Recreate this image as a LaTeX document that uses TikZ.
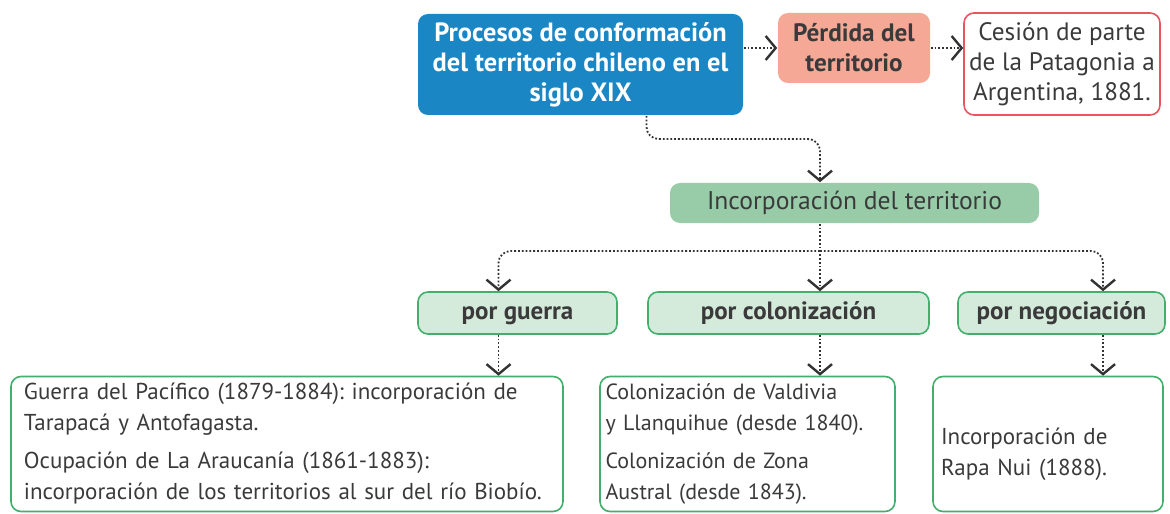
\documentclass[tikz,border=0pt]{standalone}
\usepackage{fontspec}
\setmainfont{PT Sans}
\usetikzlibrary{arrows.meta}
\frenchspacing

\definecolor{azul}{HTML}{1B86C4}
\definecolor{salmon}{HTML}{F5A896}
\definecolor{rojo}{HTML}{E9545E}
\definecolor{verde}{HTML}{98CCA8}
\definecolor{verdeclaro}{HTML}{D4EBDC}
\definecolor{verdeborde}{HTML}{44AE6C}
\definecolor{tinta}{HTML}{3A3A3A}

\begin{document}
\begin{tikzpicture}[x=0.5pt,y=-0.5pt,
		every node/.style={font=\fontsize{11.5}{15.5}\selectfont,text=tinta,inner sep=0pt,align=center},
		caja/.style={rounded corners=5pt,line width=0.8pt},
		rama/.style={caja,fill=verdeclaro,draw=verdeborde,minimum height=21pt,text height=9pt,text depth=3pt,font=\fontsize{12.5}{15}\selectfont\bfseries},
		hoja/.style={caja,fill=white,draw=verdeborde,minimum height=67.5pt,align=left},
		link/.style={draw=black!80,densely dotted,line width=0.9pt,-{Straight Barb[length=5pt,width=12pt,line width=1.2pt]}}]
	\useasboundingbox (0,0) rectangle (1170,513);
	\node[caja,fill=azul,minimum width=162.5pt,minimum height=50.5pt,text=white,font=\fontsize{13.2}{15}\selectfont\bfseries] (titulo) at (580.5,64.5) {Procesos de conformación\\del territorio chileno en el\\siglo XIX};
	\node[caja,fill=salmon,minimum width=76pt,minimum height=35pt,font=\fontsize{12.6}{15}\selectfont\bfseries] (perdida) at (854,48) {Pérdida del\\territorio};
	\node[caja,fill=white,draw=rojo,minimum width=98pt,minimum height=51pt,font=\fontsize{12.6}{15}\selectfont] (cesion) at (1062,64) {Cesión de parte\\de la Patagonia a\\Argentina, 1881.};
	\node[caja,fill=verde,minimum width=184.5pt,minimum height=20pt,text height=9pt,text depth=3pt,font=\fontsize{12.8}{15}\selectfont] (incorp) at (854.5,203) {Incorporación del territorio};
	\node[rama,minimum width=99.5pt] (guerra) at (517.5,313) {por guerra};
	\node[rama,minimum width=140.5pt] (colon) at (788.5,313) {por colonización};
	\node[rama,minimum width=103.5pt] (negoc) at (1061.5,313) {por negociación};
	\node[hoja,minimum width=276pt,text width=263pt] (caja1) at (287,444) {Guerra del Pacífico (1879-1884): incorporación de\\Tarapacá y Antofagasta.\\[3.5pt]Ocupación de La Araucanía (1861-1883):\\incorporación de los territorios al sur del río Biobío.};
	\node[hoja,minimum width=147.5pt,text width=142pt,font=\fontsize{11}{15.5}\selectfont] (caja2) at (747.5,444) {Colonización de Valdivia\\y Llanquihue (desde 1840).\\[3.5pt]Colonización de Zona\\Austral (desde 1843).};
	\node[hoja,minimum width=115pt,text width=107pt] (caja3) at (1048,444) {\\[3pt]Incorporación de\\Rapa Nui (1888).};
	\coordinate (bus) at (820,251);
	\draw[link] (perdida.west -| titulo.east) -- (perdida.west);
	\draw[link] (perdida.east) -- (perdida.east -| cesion.west);
	\draw[link,rounded corners=6pt] ([xshift=33pt]titulo.south) |- (bus |- 0,139) -- (incorp.north -| bus);
	\draw[link] (incorp.south -| bus) -- (colon.north -| bus);
	\draw[link,rounded corners=6pt] (bus) -| ([xshift=-9.5pt]guerra.north);
	\draw[link,rounded corners=6pt] (bus) -| ([xshift=20.75pt]negoc.north);
	\draw[link] ([xshift=-9.5pt]guerra.south) -- ([xshift=-9.5pt]guerra.south |- caja1.north);
	\draw[link] (colon.south -| bus) -- (caja2.north -| bus);
	\draw[link] ([xshift=20.75pt]negoc.south) -- ([xshift=20.75pt]negoc.south |- caja3.north);
\end{tikzpicture}
\end{document}
